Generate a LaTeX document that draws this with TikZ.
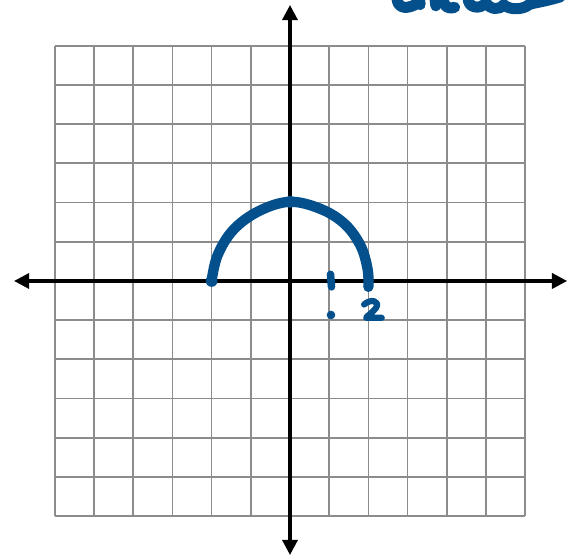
\documentclass[tikz,border=0pt]{standalone}
\usetikzlibrary{arrows.meta}
\definecolor{ink}{RGB}{4,80,140}
\definecolor{gridgray}{RGB}{140,140,140}
\begin{document}
\begin{tikzpicture}[x=1cm,y=1cm,
  gridline/.style={draw=gridgray,line width=1.3pt},
  axisline/.style={draw=black,line width=2.3pt,-{Triangle[length=11pt,width=11pt]}},
  pen/.style={draw=ink,line width=7.5pt,line cap=round,line join=round},
  thinpen/.style={draw=ink,line width=4.5pt,line cap=round,line join=round}]
\useasboundingbox (-7.398,-7.066) rectangle (7.245,7.168);
\clip (-7.398,-7.066) rectangle (7.245,7.168);
\fill[white] (-7.398,-7.066) rectangle (7.245,7.168);
% grid
\draw[gridline] (-6,-6) grid (6,6);
% axes
\coordinate (O) at (0,0);
\coordinate (xl) at (-7.04,0);
\coordinate (xr) at (7.07,0);
\coordinate (yt) at (0,7.04);
\coordinate (yb) at (0,-6.99);
\draw[axisline] (O) -- (xl);
\draw[axisline] (O) -- (xr);
\draw[axisline] (O) -- (yt);
\draw[axisline] (O) -- (yb);
% semicircle
\coordinate (L) at (-2,0);
\coordinate (T) at (0,2.02);
\coordinate (R) at (2.0,-0.15);
\draw[pen] plot[smooth,tension=0.6] coordinates {(-2,0) (-1.85,0.65) (-1.45,1.3) (-0.8,1.78) (0,2.02) (0.8,1.83) (1.4,1.45) (1.8,0.9) (1.98,0.3) (2.0,-0.15)};
\fill[ink] (L) circle (0.15);
\fill[ink] (T) circle (0.15);
% label 1
\coordinate (m1a) at (1.033,0.17);
\coordinate (m1b) at (1.059,-0.15);
\draw[thinpen,line width=5.5pt] (m1a) -- (m1b);
\fill[ink] (1.046,-0.867) circle (0.11);
% label 2
\draw[thinpen] (1.89,-0.6) .. controls (2.05,-0.45) and (2.3,-0.5) .. (2.2,-0.68)
  .. controls (2.1,-0.82) and (1.95,-0.9) .. (1.94,-0.94) -- (2.34,-0.94);
% handwriting at top right (cut off)
\begin{scope}[pen,line width=8pt]
\draw (2.73,7.25) .. controls (2.72,7.0) and (2.9,6.9) .. (3.2,7.05);
\draw (3.3,7.2) -- (3.32,7.05);
\draw (3.7,7.2) -- (3.72,7.02);
\draw (3.9,7.25) .. controls (3.92,7.0) and (4.0,6.93) .. (4.2,6.98);
\draw (4.55,7.25) .. controls (4.5,6.97) and (4.85,6.9) .. (5.0,7.1)
  .. controls (5.1,6.92) and (5.35,6.9) .. (5.45,7.05)
  .. controls (5.6,6.9) and (5.95,6.92) .. (6.1,7.05)
  .. controls (6.2,7.1) and (6.4,7.1) .. (6.9,7.25);
\end{scope}
\end{tikzpicture}
\end{document}
